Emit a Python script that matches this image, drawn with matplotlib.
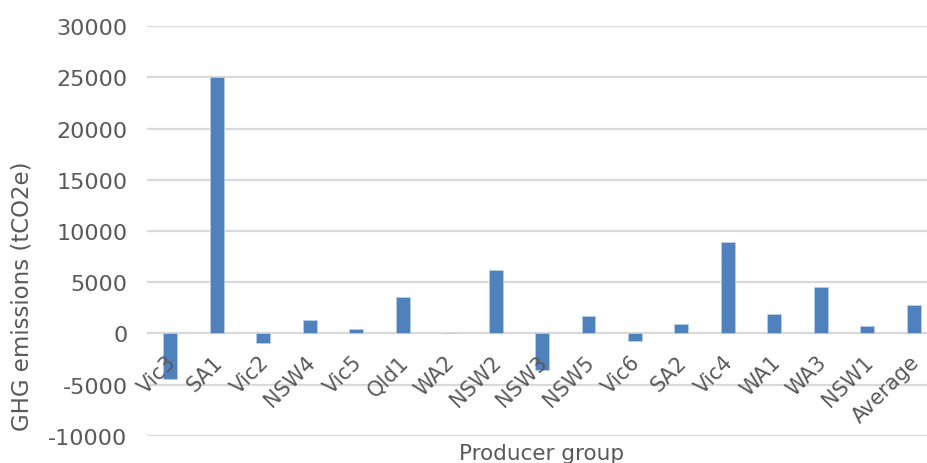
import numpy as np
import matplotlib.pyplot as plt
from matplotlib.transforms import offset_copy

# Data
groups = ["Vic3", "SA1", "Vic2", "NSW4", "Vic5", "Qld1", "WA2", "NSW2", "NSW3",
          "NSW5", "Vic6", "SA2", "Vic4", "WA1", "WA3", "NSW1", "Average"]
emissions = np.array([-4450, 25000, -950, 1350, 400, 3530, 0, 6230, -3600,
                      1750, -720, 880, 8890, 1880, 4510, 750, 2800])
yticks = np.arange(-10000, 30001, 5000)

plt.rcParams['font.family'] = ['DejaVu Sans']
txt = '#595959'
grid = '#d9d9d9'

fig = plt.figure(figsize=(9.27, 4.64), dpi=100)
ax = fig.add_axes([0.1586, 0.0582, 0.8522, 0.8836])

x = np.arange(len(groups))
ax.bar(x, emissions, width=0.3, color='#4f81bd', edgecolor='#b9cde5', linewidth=0.6, zorder=3)

ax.set_xlim(-0.5, len(groups) - 0.5)
ax.set_ylim(yticks[0], yticks[-1])
ax.set_yticks(yticks)
ax.set_yticklabels([str(v) for v in yticks])
ax.yaxis.grid(True, color=grid, linewidth=1.6, zorder=0)
ax.set_axisbelow(True)
ax.tick_params(axis='y', length=0, pad=14, labelsize=16, labelcolor=txt)
ax.set_xticks([])
for s in ax.spines.values():
    s.set_visible(False)

# category labels sit along the zero line
trans = offset_copy(ax.transData, fig=fig, x=-12, y=-18, units='dots')
for i, g in enumerate(groups):
    ax.text(i + 0.16, 0, g, rotation=45, ha='right', va='top', rotation_mode='anchor',
            fontsize=15, color=txt, transform=trans, zorder=4)

fig.text(0.024, 0.362, "GHG emissions (tCO2e)", rotation=90, ha='center', va='center',
         fontsize=16.5, color=txt)
fig.text(0.584, 1 - 444 / 464, "Producer group", ha='center', va='top', fontsize=15.5, color=txt)

fig.savefig("out.png", dpi=100)
